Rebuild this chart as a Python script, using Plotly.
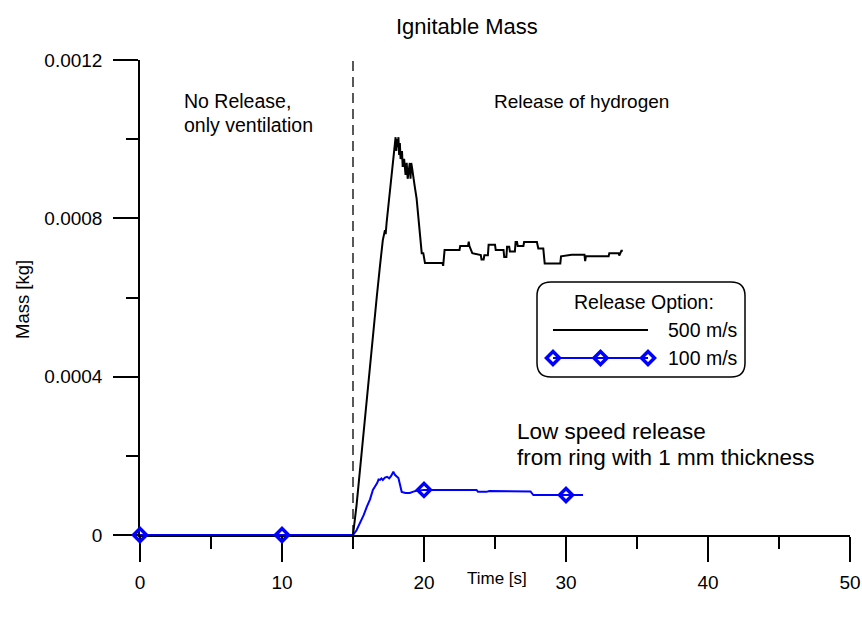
import plotly.graph_objects as go

# ---------------- data ----------------
release_start = 15.0

t_500 = [0.0, 15.0, 15.25, 15.5, 15.73, 16.0, 16.2, 16.43, 16.55, 16.67, 16.9, 17.02, 17.1, 17.25, 17.3,
         17.37, 17.49, 17.61, 17.72, 17.84, 17.96, 18.0, 18.05, 18.1, 18.15, 18.2, 18.25, 18.3, 18.35,
         18.45, 18.5, 18.6, 18.7, 18.78, 18.85, 18.95, 19.0, 19.05, 19.1, 19.15, 19.25, 19.35, 19.48,
         19.6, 19.7, 19.84, 19.95, 20.07, 21.3, 21.35, 21.45, 21.55, 22.5, 22.55, 23.1, 23.15, 23.2,
         23.4, 24.0, 24.05, 24.2, 24.25, 24.5, 24.55, 25.0, 25.05, 25.6, 25.65, 25.8, 25.85, 26.0,
         26.05, 26.4, 26.45, 26.55, 26.6, 27.0, 27.05, 27.95, 28.05, 28.4, 28.5, 29.6, 29.65, 30.4,
         31.3, 31.35, 31.4, 33.0, 33.05, 33.7, 33.75, 33.9, 34.0]
m_500 = [0.0, 0.0, 0.000075, 0.00017, 0.00026, 0.00036, 0.00043, 0.00051, 0.00056, 0.0006, 0.00068,
         0.00072, 0.000745, 0.00077, 0.00076, 0.00079, 0.00083, 0.00087, 0.00091, 0.00095, 0.00099,
         0.001005, 0.00097, 0.001, 0.00098, 0.001005, 0.00096, 0.00099, 0.00095, 0.00097, 0.00093,
         0.00095, 0.00091, 0.00094, 0.0009, 0.00092, 0.00094, 0.0009, 0.00094, 0.00093, 0.0009,
         0.00088, 0.00085, 0.0008, 0.00075, 0.000712, 0.000712, 0.000687, 0.000687, 0.00068, 0.00072,
         0.00072, 0.00072, 0.00073, 0.00073, 0.000741, 0.00073, 0.000712, 0.000707, 0.000696,
         0.000696, 0.000707, 0.000707, 0.000733, 0.000733, 0.00072, 0.00072, 0.000702, 0.000702,
         0.000728, 0.000728, 0.000716, 0.000716, 0.00074, 0.00074, 0.00073, 0.00073, 0.00074,
         0.00074, 0.000724, 0.000724, 0.000686, 0.000686, 0.000704, 0.000708, 0.000708, 0.000692,
         0.000704, 0.000704, 0.000712, 0.000712, 0.000706, 0.000718, 0.000718]

t_100 = [0.0, 10.0, 15.0, 15.25, 15.5, 15.75, 15.97, 16.2, 16.4, 16.55, 16.7, 16.8, 16.9, 17.0, 17.1,
         17.25, 17.4, 17.55, 17.7, 17.84, 17.95, 18.2, 18.43, 18.7, 19.0, 19.2, 19.4, 20.0, 23.7, 23.8,
         24.4, 24.6, 27.5, 27.7, 30.0, 31.2]
m_100 = [0.0, 0.0, 0.0, 0.000012, 0.00003, 0.00005, 0.000071, 0.00009, 0.000114, 0.000122, 0.000131,
         0.00014, 0.000139, 0.000143, 0.000139, 0.000145, 0.000147, 0.000143, 0.00015, 0.00016,
         0.000152, 0.000144, 0.000109, 0.000106, 0.000106, 0.000109, 0.000111, 0.000114, 0.000114,
         0.000109, 0.000109, 0.000111, 0.00011, 0.000101, 0.000101, 0.000101]
marker_times_100 = [0.0, 10.0, 20.0, 30.0]

x_tickvals = [0, 10, 20, 30, 40, 50]
y_tickvals = [0, 0.0004, 0.0008, 0.0012]
y_ticktext = ["0", "0.0004", "0.0008", "0.0012"]

series_names = ["500 m/s", "100 m/s"]
legend_title = "Release Option:"

FONT = "Liberation Sans, Arial, Helvetica, sans-serif"
BLUE = "#0000ff"

# plot-area pixel geometry (for placing decorations in paper coords)
PX_L, PX_R, PX_T, PX_B = 140, 850, 60, 535
def px(x):
    return (x - PX_L) / (PX_R - PX_L)
def py(y):
    return (PX_B - y) / (PX_B - PX_T)

MARKER = dict(symbol="diamond-open", size=10, color=BLUE, line=dict(color=BLUE, width=3.5))

fig = go.Figure()

fig.add_trace(go.Scatter(x=t_500, y=m_500, mode="lines",
                         line=dict(color="black", width=2), showlegend=False))
fig.add_trace(go.Scatter(x=t_100, y=m_100, mode="lines",
                         line=dict(color=BLUE, width=2), showlegend=False))
mk_x = [t for t in t_100 if t in marker_times_100]
mk_y = [m for t, m in zip(t_100, m_100) if t in marker_times_100]
fig.add_trace(go.Scatter(x=mk_x, y=mk_y, mode="markers", cliponaxis=False,
                         marker=MARKER, showlegend=False))

# legend sample (drawn in an overlay axis equal to paper coordinates)
leg_x = [px(553), px(600.5), px(648)]
leg_y = [py(358)] * 3
fig.add_trace(go.Scatter(x=leg_x, y=leg_y, xaxis="x2", yaxis="y2", mode="lines+markers",
                         cliponaxis=False, line=dict(color=BLUE, width=2),
                         marker=MARKER, showlegend=False))

def rounded_rect(x0, y0, x1, y1, r):
    return (f"M {px(x0 + r)},{py(y0)} L {px(x1 - r)},{py(y0)} "
            f"Q {px(x1)},{py(y0)} {px(x1)},{py(y0 + r)} L {px(x1)},{py(y1 - r)} "
            f"Q {px(x1)},{py(y1)} {px(x1 - r)},{py(y1)} L {px(x0 + r)},{py(y1)} "
            f"Q {px(x0)},{py(y1)} {px(x0)},{py(y1 - r)} L {px(x0)},{py(y0 + r)} "
            f"Q {px(x0)},{py(y0)} {px(x0 + r)},{py(y0)} Z")

shapes = [
    dict(type="line", xref="x", yref="y", x0=release_start, x1=release_start, y0=0, y1=0.0012,
         line=dict(color="black", width=1.3, dash="10px,6px")),
    dict(type="path", xref="paper", yref="paper", path=rounded_rect(537, 282, 745, 377, 14),
         line=dict(color="black", width=1.5), fillcolor="rgba(0,0,0,0)"),
    dict(type="line", xref="paper", yref="paper", x0=px(553), x1=px(648), y0=py(330), y1=py(330),
         line=dict(color="black", width=2)),
]

def note(text, x, y, size, xanchor="left", angle=0):
    return dict(text=text, xref="paper", yref="paper", x=px(x), y=py(y), showarrow=False,
                textangle=angle, font=dict(size=size, color="black", family=FONT),
                xanchor=xanchor, yanchor="middle", align="left")

annotations = [
    note("Ignitable Mass", 467, 26, 22, "center"),
    note("Time [s]", 497, 578, 17, "center"),
    note("Mass [kg]", 22, 300, 18.5, "center", -90),
    note("No Release,", 182, 101, 19.5),
    note("only ventilation", 182, 125, 19.5),
    note("Release of hydrogen", 492, 101, 19),
    note("Low speed release", 515, 431, 22.5),
    note("from ring with 1 mm thickness", 515, 457, 22.5),
    note(legend_title, 572, 302, 19.5),
    note(series_names[0], 666, 330, 19.5),
    note(series_names[1], 666, 358, 19.5),
]

axis_common = dict(ticks="outside", ticklen=25, tickwidth=1.5, tickcolor="black",
                   showline=True, linecolor="black", linewidth=1.5, showgrid=False,
                   zeroline=False, layer="below traces", automargin=False,
                   tickfont=dict(size=19, family=FONT, color="black"))

fig.update_layout(
    width=862, height=617,
    margin=dict(l=PX_L, r=862 - PX_R, t=PX_T, b=617 - PX_B),
    plot_bgcolor="white", paper_bgcolor="white",
    font=dict(family=FONT, color="black", size=18),
    showlegend=False,
    shapes=shapes,
    annotations=annotations,
    xaxis=dict(range=[0, 50], tickvals=x_tickvals, ticklabelstandoff=4,
               minor=dict(dtick=5, ticks="outside", ticklen=12, tickwidth=1.5, tickcolor="black",
                          showgrid=False), **axis_common),
    yaxis=dict(range=[0, 0.0012], tickvals=y_tickvals, ticktext=y_ticktext, ticklabelstandoff=7,
               minor=dict(dtick=0.0002, ticks="outside", ticklen=12, tickwidth=1.5,
                          tickcolor="black", showgrid=False), **axis_common),
    xaxis2=dict(overlaying="x", range=[0, 1], visible=False),
    yaxis2=dict(overlaying="y", range=[0, 1], visible=False),
)

fig.write_html("out.html", config={"displayModeBar": False},
               post_script="document.body.style.margin='0';")
